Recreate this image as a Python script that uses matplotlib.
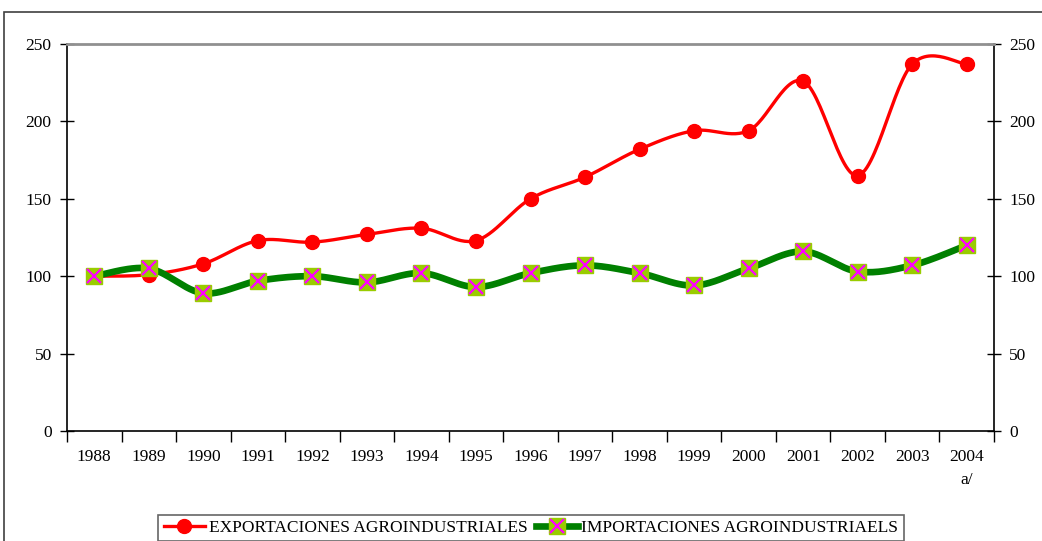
import numpy as np
import matplotlib.pyplot as plt
from matplotlib.lines import Line2D
from matplotlib.patches import Rectangle

plt.rcParams['font.family'] = ['Liberation Serif', 'DejaVu Serif']

years = ['1988', '1989', '1990', '1991', '1992', '1993', '1994', '1995', '1996',
         '1997', '1998', '1999', '2000', '2001', '2002', '2003', '2004']
exportaciones = [100, 101, 108, 123, 122, 127, 131, 123, 150,
                 164, 182, 194, 194, 226, 165, 237, 237]
importaciones = [100, 105, 89, 97, 100, 96, 102, 93, 102,
                 107, 102, 94, 105, 116, 103, 107, 120]


def smooth(x, y, n=30):
    # bezier smoothing like the spreadsheet "smoothed line" option
    x = np.asarray(x, float)
    y = np.asarray(y, float)
    px = np.concatenate([[x[0]], x, [x[-1]]])
    py = np.concatenate([[y[0]], y, [y[-1]]])
    xs, ys = [], []
    t = np.linspace(0, 1, n)
    for i in range(1, len(px) - 2):
        p0 = np.array([px[i], py[i]])
        p3 = np.array([px[i + 1], py[i + 1]])
        p1 = p0 + (np.array([px[i + 1], py[i + 1]]) - np.array([px[i - 1], py[i - 1]])) / 6
        p2 = p3 - (np.array([px[i + 2], py[i + 2]]) - np.array([px[i], py[i]])) / 6
        b = ((1 - t) ** 3)[:, None] * p0 + (3 * (1 - t) ** 2 * t)[:, None] * p1 \
            + (3 * (1 - t) * t ** 2)[:, None] * p2 + (t ** 3)[:, None] * p3
        xs.extend(b[:, 0])
        ys.extend(b[:, 1])
    return np.array(xs), np.array(ys)


fig = plt.figure(figsize=(10.42, 5.41), dpi=100)
fig.patches.append(Rectangle((4 / 1042, -0.1), 1.2, (541 - 12) / 541 + 0.1,
                             transform=fig.transFigure, fill=False,
                             edgecolor='#404040', linewidth=1.2))
ax = fig.add_axes([67 / 1042, 110 / 541, 927 / 1042, 387 / 541])

x = np.arange(len(years))
sx, sy = smooth(x, exportaciones)
ax.plot(sx, sy, color='red', linewidth=2.4, zorder=3)
ax.plot(x, exportaciones, 'o', color='red', markersize=10, zorder=4)

sx, sy = smooth(x, importaciones)
ax.plot(sx, sy, color='#008000', linewidth=4.8, zorder=5)
ax.plot(x, importaciones, 's', color='#99CC00', markersize=11, zorder=6)
ax.plot(x, importaciones, 'x', color='#FF00FF', markersize=10,
        markeredgewidth=1.6, zorder=7)

ax.set_xlim(-0.5, len(years) - 0.5)
ax.set_ylim(0, 250)
ax.set_yticks([0, 50, 100, 150, 200, 250])
ax.set_xticks(x)
ax.set_xticklabels(years, fontsize=12.5)
ax.set_xticks(np.arange(-0.5, len(years)), minor=True)
ax.tick_params(axis='x', which='major', length=0, pad=13)
ax.tick_params(axis='x', which='minor', length=8, direction='out', width=1)
ax.tick_params(axis='y', which='major', length=10, direction='inout', width=1,
               labelsize=12.5, pad=6, left=True, right=True, labelright=True)

for s in ['left', 'right', 'bottom']:
    ax.spines[s].set_color('black')
    ax.spines[s].set_linewidth(1.2)
ax.spines['top'].set_color('#909090')
ax.spines['top'].set_linewidth(2)

ax.text(len(years) - 1, -0.127, 'a/', transform=ax.get_xaxis_transform(),
        ha='center', va='center', fontsize=12.5)

h1 = Line2D([], [], color='red', linewidth=2.4, marker='o', markersize=10)
h2a = Line2D([], [], color='#008000', linewidth=4.8, marker='s',
             markerfacecolor='#99CC00', markeredgecolor='#99CC00', markersize=11)
h2b = Line2D([], [], linestyle='none', marker='x', color='#FF00FF',
             markersize=10, markeredgewidth=1.6)
leg = fig.legend([h1, (h2a, h2b)],
                 ['EXPORTACIONES AGROINDUSTRIALES', 'IMPORTACIONES AGROINDUSTRIAELS'],
                 loc='center', bbox_to_anchor=(531 / 1042, (541 - 528) / 541),
                 ncol=2, fontsize=12.5, frameon=True, fancybox=False,
                 edgecolor='#404040', handlelength=2.4, handletextpad=0.2,
                 columnspacing=0.5, borderpad=0.3)
leg.get_frame().set_linewidth(1.2)

fig.savefig('out.png', dpi=100)
